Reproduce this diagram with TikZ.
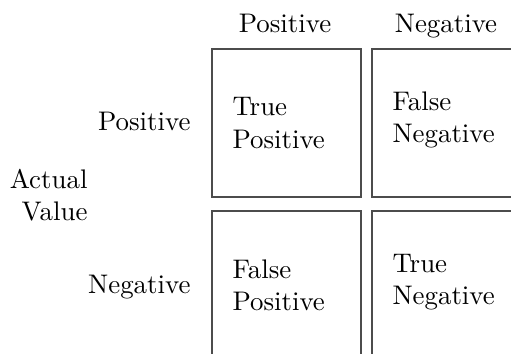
\documentclass[tikz,border=0pt]{standalone}
\begin{document}
\begin{tikzpicture}[x=0.372pt,y=-0.372pt,
  cell/.style={draw=black!70, line width=0.7pt, minimum width=149*0.372pt, minimum height=148*0.372pt, inner sep=0pt},
  lbl/.style={inner sep=0pt, align=left, font=\fontsize{10}{12}\selectfont},
  rlbl/.style={inner sep=0pt, align=right, font=\fontsize{10}{12}\selectfont}]
\useasboundingbox (0,0) rectangle (511,354);
\clip (0,0) rectangle (511,354);
\node[cell, anchor=north west] (tp) at (211,48) {};
\node[cell, anchor=north west] (fn) at (371,48) {};
\node[cell, anchor=north west] (fp) at (211,210) {};
\node[cell, anchor=north west] (tn) at (371,210) {};
\node[lbl, anchor=base] (hpos) at (285,33) {Positive};
\node[lbl, anchor=base] (hneg) at (446,33) {Negative};
\node[rlbl, anchor=base east] (rpos) at (191,131) {Positive};
\node[rlbl, anchor=base east] (rneg) at (191,294) {Negative};
\node[rlbl, anchor=east] (actual) at (88,195) {Actual\\Value};
\node[lbl, anchor=west] (ttp) at (232,123) {True\\Positive};
\node[lbl, anchor=west] (tfn) at (392,120) {False\\Negative};
\node[lbl, anchor=west] (tfp) at (232,285) {False\\Positive};
\node[lbl, anchor=west] (ttn) at (392,282) {True\\Negative};
\end{tikzpicture}
\end{document}
